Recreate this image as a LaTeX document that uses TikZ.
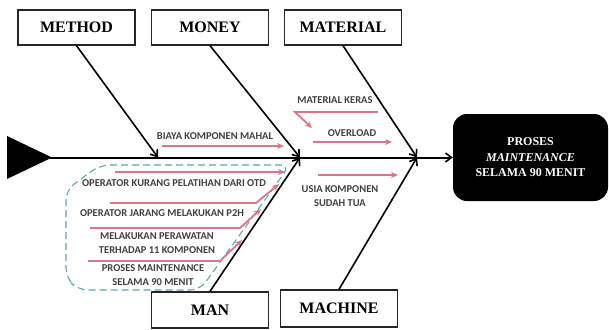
\documentclass[tikz,border=0pt]{standalone}
\usepackage{fontspec}
\setmainfont{Liberation Serif}
\newfontfamily\causefont{Carlito}
\usetikzlibrary{arrows.meta,calc}

\definecolor{causepink}{RGB}{214,120,138}
\definecolor{groupteal}{RGB}{95,165,172}

\begin{document}
\begin{tikzpicture}[x=1pt,y=-1pt,
  catbox/.style={draw=black!85,line width=1.3pt,minimum width=117pt,minimum height=35pt,inner sep=0pt,
    font=\fontsize{16}{18}\selectfont\bfseries},
  bone/.style={-{Straight Barb[length=6pt,width=9pt,line width=1.6pt]},line width=1.6pt},
  cause/.style={-{Stealth[length=7pt,width=6pt]},line width=1.8pt,causepink},
  causetext/.style={font=\causefont\fontsize{10.5}{13.5}\selectfont\bfseries,text=black!75,align=center,inner sep=0pt}]
  \useasboundingbox (0,0) rectangle (609,329);

  \node[catbox] (Method) at (76.5,27.5) {METHOD};
  \node[catbox] (Money) at (210,27.5) {MONEY};
  \node[catbox] (Material) at (343,27.5) {MATERIAL};
  \node[catbox,minimum height=36pt] (Man) at (210,310) {MAN};
  \node[catbox,minimum height=37pt] (Machine) at (339,308.5) {MACHINE};
  \node[fill=black,rounded corners=14pt,minimum width=155pt,minimum height=87pt,text=white,align=center,
    font=\fontsize{12}{15.5}\selectfont\bfseries] (Effect) at (530.5,157.5) {PROSES\\\textit{MAINTENANCE}\\SELAMA 90 MENIT};

  \fill (7,136) -- (7,179) -- (52,157.5) -- cycle;
  \coordinate (Tail) at (50,157.5);
  \coordinate (jMethod) at (158,157.5);
  \coordinate (jMoney) at (300,157.5);
  \coordinate (jMaterial) at (417,157.5);

  \path[bone,line width=2pt] (Tail) edge (Effect.west);
  \path[bone] (Method.south) edge (jMethod) (Money.south) edge (jMoney)
              (Material.south) edge (jMaterial);
  \path[bone] (Man.north) edge (jMoney) (Machine.north) edge (jMaterial);

  \draw[groupteal,line width=1.1pt,dash pattern=on 7pt off 4pt,rounded corners=10pt]
    (100,165) -- (290,165) -- (200,290) -- (78,290) -- (66,278) -- (66,190) -- cycle;

  \node[causetext] (Biaya) at (215,136) {BIAYA KOMPONEN MAHAL};
  \node[causetext] (Keras) at (335,100) {MATERIAL KERAS};
  \node[causetext] (Overload) at (352,133) {OVERLOAD};
  \node[causetext] (Usia) at (340,196) {USIA KOMPONEN\\SUDAH TUA};
  \node[causetext] (Otd) at (174,183) {OPERATOR KURANG PELATIHAN DARI OTD};
  \node[causetext] (Ptwoh) at (162,213) {OPERATOR JARANG MELAKUKAN P2H};
  \node[causetext] (Rawat) at (157,243) {MELAKUKAN PERAWATAN\\TERHADAP 11 KOMPONEN};
  \node[causetext] (Proses) at (153,275) {PROSES MAINTENANCE\\SELAMA 90 MENIT};

  \coordinate (b1) at (162,146); \coordinate (b2) at (284,146);
  \coordinate (k1) at (378,112); \coordinate (k2) at (295,112); \coordinate (k3) at (312,128);
  \coordinate (o1) at (313,142); \coordinate (o2) at (392,142);
  \coordinate (u1) at (318,175); \coordinate (u2) at (398,175);
  \coordinate (m1) at (115,172); \coordinate (m2) at (285,172);
  \coordinate (m3) at (110,203); \coordinate (m4) at (256,203); \coordinate (m5) at (279,184);
  \coordinate (m6) at (90,228); \coordinate (m7) at (240,228); \coordinate (m8) at (261,209);
  \coordinate (m9) at (88,261); \coordinate (m10) at (220,261); \coordinate (m11) at (242,240);

  \path[cause] (b1) edge (b2) (o1) edge (o2) (u1) edge (u2) (m1) edge (m2);
  \draw[cause] (k1) -- (k2) -- (k3);
  \draw[cause] (m3) -- (m4) -- (m5);
  \draw[cause] (m6) -- (m7) -- (m8);
  \draw[cause] (m9) -- (m10) -- (m11);
\end{tikzpicture}
\end{document}
